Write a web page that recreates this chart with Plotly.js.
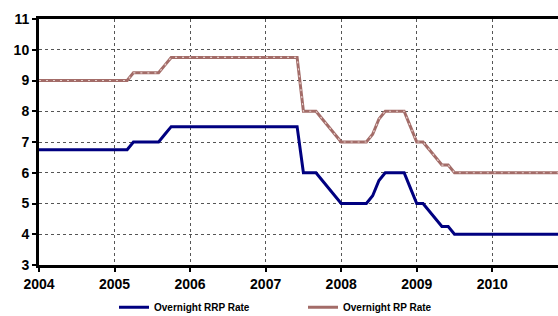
<!DOCTYPE html>
<html>
<head>
<meta charset="utf-8">
<script src="https://cdn.plot.ly/plotly-3.0.1.min.js"></script>
<style>html,body{margin:0;padding:0;background:#fff;}#chart{width:558px;height:316px;}</style>
</head>
<body>
<div id="chart"></div>
<script>
// Monthly observations, Jan 2004 .. Dec 2010
var startYear = 2004;
var seriesNames = ["Overnight RRP Rate", "Overnight RP Rate"];
var yearTicks = [2004, 2005, 2006, 2007, 2008, 2009, 2010];
var yearLabels = ["2004", "2005", "2006", "2007", "2008", "2009", "2010"];

var rrpRate = [
  6.75,6.75,6.75,6.75,6.75,6.75,6.75,6.75,6.75,6.75,6.75,6.75,   // 2004
  6.75,6.75,6.75,7.0,7.0,7.0,7.0,7.0,7.25,7.5,7.5,7.5,           // 2005
  7.5,7.5,7.5,7.5,7.5,7.5,7.5,7.5,7.5,7.5,7.5,7.5,               // 2006
  7.5,7.5,7.5,7.5,7.5,7.5,6.0,6.0,6.0,5.75,5.5,5.25,             // 2007
  5.0,5.0,5.0,5.0,5.0,5.25,5.75,6.0,6.0,6.0,6.0,5.5,             // 2008
  5.0,5.0,4.75,4.5,4.25,4.25,4.0,4.0,4.0,4.0,4.0,4.0,            // 2009
  4.0,4.0,4.0,4.0,4.0,4.0,4.0,4.0,4.0,4.0,4.0,4.0                // 2010
];
var rpRate = [
  9.0,9.0,9.0,9.0,9.0,9.0,9.0,9.0,9.0,9.0,9.0,9.0,               // 2004
  9.0,9.0,9.0,9.25,9.25,9.25,9.25,9.25,9.5,9.75,9.75,9.75,       // 2005
  9.75,9.75,9.75,9.75,9.75,9.75,9.75,9.75,9.75,9.75,9.75,9.75,   // 2006
  9.75,9.75,9.75,9.75,9.75,9.75,8.0,8.0,8.0,7.75,7.5,7.25,       // 2007
  7.0,7.0,7.0,7.0,7.0,7.25,7.75,8.0,8.0,8.0,8.0,7.5,             // 2008
  7.0,7.0,6.75,6.5,6.25,6.25,6.0,6.0,6.0,6.0,6.0,6.0,            // 2009
  6.0,6.0,6.0,6.0,6.0,6.0,6.0,6.0,6.0,6.0,6.0,6.0                // 2010
];

var months = rrpRate.map(function(_, i){ return startYear + i/12; });

var fam = "Liberation Sans, Arial, sans-serif";

var traces = [
  {x: months, y: rrpRate, name: seriesNames[0], type: "scatter", mode: "lines",
   legend: "legend", line: {color: "#000080", width: 3}},
  {x: months, y: rpRate, name: seriesNames[1], type: "scatter", mode: "lines",
   legend: "legend2", line: {color: "#A36C68", width: 3}},
  {x: months, y: rpRate, name: seriesNames[1], type: "scatter", mode: "lines", showlegend: false,
   hoverinfo: "skip", line: {color: "#E6CDCA", width: 1.2, dash: "2px,5px"}}
];

var legFont = {family: fam, size: 10, color: "#000", weight: "bold"};
var tickFont = {family: fam, size: 14, color: "#000", weight: "bold"};

var layout = {
  width: 558, height: 316,
  margin: {l: 39, r: 0, t: 19, b: 51, pad: 0, autoexpand: false},
  paper_bgcolor: "#fff", plot_bgcolor: "#fff",
  showlegend: true,
  font: {family: fam, size: 13, color: "#000"},
  xaxis: {
    range: [2004, 2010.87], tickvals: yearTicks, ticktext: yearLabels,
    showgrid: true, gridcolor: "#555", griddash: "dot", gridwidth: 1,
    showline: true, linecolor: "#000", linewidth: 3, mirror: true,
    ticks: "outside", ticklen: 4, tickwidth: 2, tickcolor: "#000",
    ticklabelstandoff: 0,
    tickfont: tickFont, automargin: false,
    zeroline: false, fixedrange: true
  },
  yaxis: {
    range: [3, 11], dtick: 1, tick0: 3,
    showgrid: true, gridcolor: "#555", griddash: "dot", gridwidth: 1,
    showline: true, linecolor: "#000", linewidth: 3,
    ticks: "outside", ticklen: 4, tickwidth: 2, tickcolor: "#000",
    tickfont: tickFont, automargin: false,
    zeroline: false, fixedrange: true
  },
  legend: {
    orientation: "h", xanchor: "left", y: -0.172, yanchor: "middle",
    font: legFont, bgcolor: "rgba(0,0,0,0)", borderwidth: 0
  },
  legend2: {
    orientation: "h", xanchor: "left", y: -0.172, yanchor: "middle",
    font: legFont, bgcolor: "rgba(0,0,0,0)", borderwidth: 0
  }
};
// legend anchor positions in paper fraction of the plot area
layout.legend.x = (114 - 39) / 519;
layout.legend2.x = (303 - 39) / 519;

Plotly.newPlot("chart", traces, layout, {staticPlot: true, displayModeBar: false});
</script>
</body>
</html>
